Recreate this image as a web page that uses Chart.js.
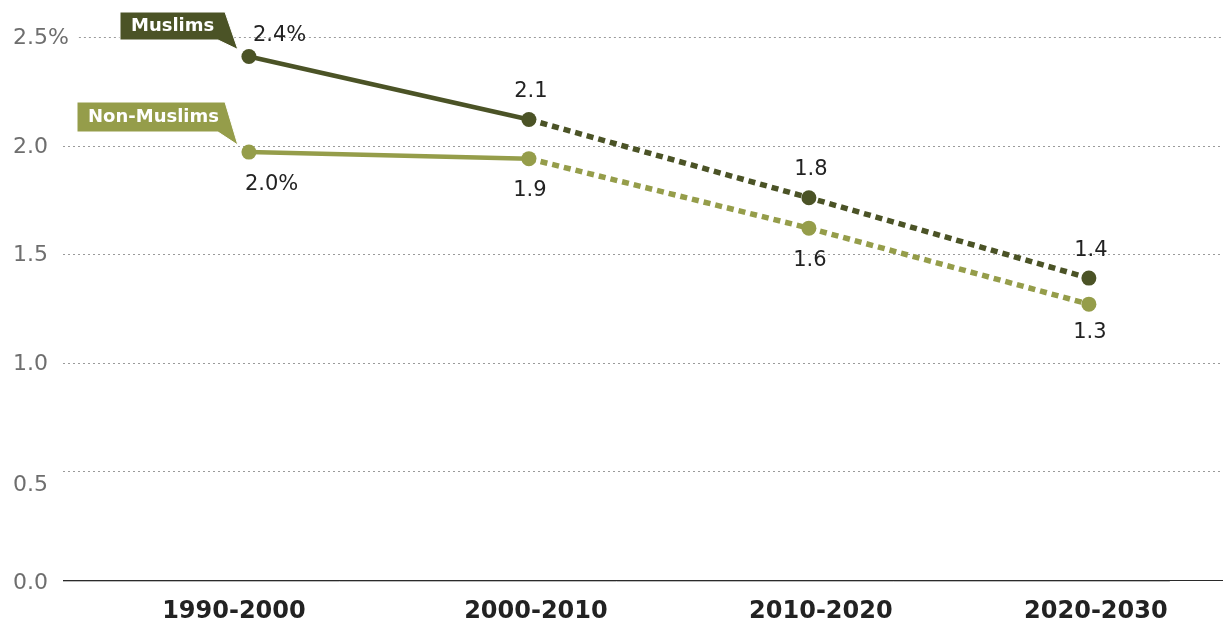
<!DOCTYPE html>
<html>
<head>
<meta charset="utf-8">
<script src="https://cdn.jsdelivr.net/npm/chart.js@4.4.1/dist/chart.umd.min.js"></script>
<style>
  html, body { margin: 0; padding: 0; background: #fff; }
  #wrap { width: 1223px; height: 622px; position: relative; }
</style>
</head>
<body>
<div id="wrap"><canvas id="chart"></canvas></div>
<script>
// Data
const periods = ['1990-2000', '2000-2010', '2010-2020', '2020-2030'];
const muslims = [2.41, 2.12, 1.76, 1.39];
const nonMuslims = [1.97, 1.94, 1.62, 1.27];
const muslimLabels = ['2.4%', '2.1', '1.8', '1.4'];
const nonMuslimLabels = ['2.0%', '1.9', '1.6', '1.3'];
const yTicks = [0, 0.5, 1.0, 1.5, 2.0, 2.5];
const yTickLabels = ['0.0', '0.5', '1.0', '1.5', '2.0', '2.5%'];

const DARK = '#4b5326';
const LIGHT = '#959d4a';
const FONT = "Verdana, 'DejaVu Sans', sans-serif";

// projected segments (after 2000-2010) are dashed
const dashAfterFirst = ctx => ctx.p0DataIndex >= 1 ? [7, 5] : undefined;
const widthAfterFirst = ctx => ctx.p0DataIndex >= 1 ? 5.5 : 4.5;

const toPoints = arr => arr.map((v, i) => ({ x: i, y: v }));

// small nudges so the period labels sit where the original has them
const periodNudge = [-15, 7, 12, 7];

// axes: y grid, y labels, baseline, x labels
const axisPlugin = {
    id: 'axes',
    beforeDatasetsDraw(chart) {
        const { ctx, chartArea, scales: { x, y } } = chart;
        ctx.save();
        ctx.font = '22px ' + FONT;
        ctx.textBaseline = 'middle';
        ctx.textAlign = 'left';
        yTicks.forEach((t, i) => {
            const py = Math.round(y.getPixelForValue(t)) + 0.5;
            const label = yTickLabels[i];
            const w = ctx.measureText(label).width;
            ctx.fillStyle = '#6e6e6e';
            ctx.fillText(label, 13, py + (t === 0 ? 3 : (t === 0.5 ? 14 : 1)));
            if (t === 0) {
                ctx.setLineDash([]);
                ctx.strokeStyle = '#bbb';
                ctx.lineWidth = 1;
                ctx.beginPath();
                ctx.moveTo(chartArea.left, py + 1);
                ctx.lineTo(x.getPixelForValue(3) + 81, py + 1);
                ctx.stroke();
                ctx.strokeStyle = '#2a2a2a';
                ctx.lineWidth = 1.2;
                ctx.beginPath();
                ctx.moveTo(chartArea.left, py);
                ctx.lineTo(chartArea.right, py);
                ctx.stroke();
            } else {
                ctx.strokeStyle = '#9a9a9a';
                ctx.lineWidth = 1;
                ctx.setLineDash([2, 3]);
                ctx.beginPath();
                ctx.moveTo(Math.max(chartArea.left, 13 + w + 10), py);
                ctx.lineTo(chartArea.right, py);
                ctx.stroke();
            }
        });
        ctx.setLineDash([]);
        ctx.font = 'bold 24px ' + FONT;
        ctx.fillStyle = '#222';
        ctx.textAlign = 'center';
        periods.forEach((p, i) => {
            ctx.fillText(p, x.getPixelForValue(i) + periodNudge[i], chartArea.bottom + 32);
        });
        ctx.restore();
    }
};

// value labels and series callouts
const labelPlugin = {
    id: 'labels',
    afterDatasetsDraw(chart) {
        const { ctx } = chart;
        ctx.save();
        ctx.font = '21px ' + FONT;
        ctx.fillStyle = '#222';
        ctx.textBaseline = 'middle';
        const m = chart.getDatasetMeta(0).data;
        const n = chart.getDatasetMeta(1).data;
        m.forEach((p, i) => {
            ctx.textAlign = i === 0 ? 'left' : 'center';
            ctx.fillText(muslimLabels[i], i === 0 ? p.x + 4 : p.x + 2, p.y + (i === 0 ? -21 : -28));
        });
        n.forEach((p, i) => {
            ctx.textAlign = i === 0 ? 'left' : 'center';
            ctx.fillText(nonMuslimLabels[i], i === 0 ? p.x - 4 : p.x + 1, p.y + (i === 3 ? 28 : 32));
        });

        // callouts
        const callout = (text, color, left, top, bottom, tip) => {
            ctx.fillStyle = color;
            ctx.strokeStyle = '#fff';
            ctx.lineWidth = 1;
            ctx.beginPath();
            ctx.moveTo(left, top);
            ctx.lineTo(225, top);
            ctx.lineTo(tip.x - 11, tip.y - 7);
            ctx.lineTo(218, bottom);
            ctx.lineTo(left, bottom);
            ctx.closePath();
            ctx.fill();
            ctx.stroke();
            ctx.fillStyle = '#fff';
            ctx.font = 'bold 18px ' + FONT;
            ctx.textAlign = 'left';
            ctx.fillText(text, left + 11, (top + bottom) / 2);
        };
        callout('Muslims', DARK, 120, 12, 40, m[0]);
        callout('Non-Muslims', LIGHT, 77, 102, 132, n[0]);
        ctx.restore();
    }
};

new Chart(document.getElementById('chart'), {
    type: 'line',
    data: {
        datasets: [
            {
                label: 'Muslims',
                data: toPoints(muslims),
                borderColor: DARK,
                backgroundColor: DARK,
                pointBackgroundColor: DARK,
                pointRadius: 7.5,
                pointBorderWidth: 0,
                borderCapStyle: 'butt',
                segment: { borderDash: dashAfterFirst, borderWidth: widthAfterFirst },
                tension: 0
            },
            {
                label: 'Non-Muslims',
                data: toPoints(nonMuslims),
                borderColor: LIGHT,
                backgroundColor: LIGHT,
                pointBackgroundColor: LIGHT,
                pointRadius: 7.5,
                pointBorderWidth: 0,
                borderCapStyle: 'butt',
                segment: { borderDash: dashAfterFirst, borderWidth: widthAfterFirst },
                tension: 0
            }
        ]
    },
    options: {
        responsive: true,
        maintainAspectRatio: false,
        animation: false,
        layout: { autoPadding: false, padding: { left: 63, top: 37, right: 0, bottom: 42 } },
        scales: {
            x: {
                type: 'linear',
                display: false,
                min: -0.664,
                max: 3.479
            },
            y: {
                display: false,
                min: 0,
                max: 2.5
            }
        },
        plugins: {
            legend: { display: false },
            tooltip: { enabled: false }
        }
    },
    plugins: [axisPlugin, labelPlugin]
});
</script>
</body>
</html>
